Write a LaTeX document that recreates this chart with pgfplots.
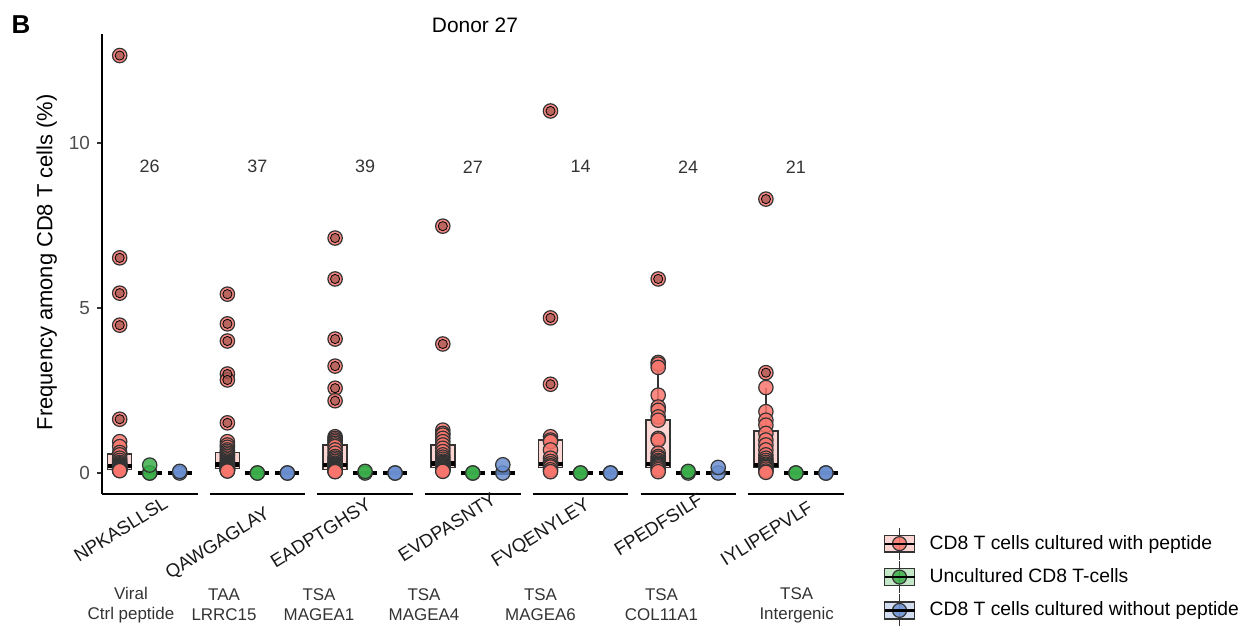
\documentclass[border=0pt]{standalone}
\usepackage{pgfplots}
\pgfplotsset{compat=1.18}
\usepackage{fontspec}
\setmainfont{Liberation Sans}
\definecolor{cred}{HTML}{F8766D}
\definecolor{cgreen}{HTML}{3BAE4A}
\definecolor{cblue}{HTML}{6A8FD0}
\definecolor{cdark}{HTML}{333333}
\definecolor{cout}{HTML}{A65A53}
\definecolor{cgray}{HTML}{4D4D4D}

% red points inside whiskers (x = facet position of the "with peptide" series)
\pgfplotstableread{
x y
119.7 0.95
119.7 0.80
119.7 0.62
119.7 0.55
119.7 0.45
119.7 0.38
119.7 0.32
119.7 0.28
119.7 0.25
119.7 0.22
119.7 0.21
119.7 0.20
119.7 0.18
119.7 0.16
119.7 0.14
119.7 0.12
119.7 0.11
119.7 0.10
119.7 0.09
119.7 0.08
119.7 0.07
227.4 0.95
227.4 0.85
227.4 0.78
227.4 0.70
227.4 0.65
227.4 0.60
227.4 0.55
227.4 0.50
227.4 0.45
227.4 0.40
227.4 0.36
227.4 0.32
227.4 0.30
227.4 0.28
227.4 0.26
227.4 0.24
227.4 0.22
227.4 0.20
227.4 0.19
227.4 0.18
227.4 0.16
227.4 0.15
227.4 0.14
227.4 0.13
227.4 0.12
227.4 0.11
227.4 0.10
227.4 0.09
227.4 0.08
227.4 0.07
227.4 0.06
335.1 1.10
335.1 1.05
335.1 1.00
335.1 0.95
335.1 0.90
335.1 0.85
335.1 0.80
335.1 0.70
335.1 0.60
335.1 0.50
335.1 0.45
335.1 0.40
335.1 0.35
335.1 0.30
335.1 0.27
335.1 0.25
335.1 0.24
335.1 0.22
335.1 0.20
335.1 0.18
335.1 0.17
335.1 0.15
335.1 0.14
335.1 0.13
335.1 0.12
335.1 0.11
335.1 0.10
335.1 0.09
335.1 0.08
335.1 0.07
335.1 0.06
335.1 0.05
335.1 0.04
442.8 1.30
442.8 1.20
442.8 1.15
442.8 1.05
442.8 0.95
442.8 0.85
442.8 0.75
442.8 0.65
442.8 0.55
442.8 0.48
442.8 0.42
442.8 0.36
442.8 0.32
442.8 0.29
442.8 0.27
442.8 0.25
442.8 0.22
442.8 0.20
442.8 0.18
442.8 0.17
442.8 0.15
442.8 0.12
442.8 0.10
442.8 0.07
442.8 0.05
550.5 1.10
550.5 1.00
550.5 0.95
550.5 0.70
550.5 0.45
550.5 0.35
550.5 0.28
550.5 0.22
550.5 0.18
550.5 0.10
550.5 0.04
658.2 3.35
658.2 3.30
658.2 3.20
658.2 2.36
658.2 2.00
658.2 1.90
658.2 1.70
658.2 1.60
658.2 1.05
658.2 1.00
658.2 0.60
658.2 0.50
658.2 0.45
658.2 0.38
658.2 0.34
658.2 0.30
658.2 0.27
658.2 0.25
658.2 0.22
658.2 0.19
658.2 0.15
658.2 0.10
658.2 0.04
765.9 2.59
765.9 1.86
765.9 1.60
765.9 1.45
765.9 1.20
765.9 1.00
765.9 0.85
765.9 0.70
765.9 0.55
765.9 0.45
765.9 0.38
765.9 0.32
765.9 0.27
765.9 0.24
765.9 0.20
765.9 0.17
765.9 0.12
765.9 0.06
765.9 0.02
}\redin

% red outliers
\pgfplotstableread{
x y
119.7 12.65
119.7 6.52
119.7 5.45
119.7 4.48
119.7 1.63
227.4 5.42
227.4 4.52
227.4 4.00
227.4 3.00
227.4 2.82
227.4 1.52
335.1 7.12
335.1 5.88
335.1 4.06
335.1 3.24
335.1 2.57
335.1 2.19
442.8 7.48
442.8 3.91
550.5 10.97
550.5 4.70
550.5 2.69
658.2 5.88
765.9 8.30
765.9 3.04
}\redout

% uncultured
\pgfplotstableread{
x y
149.7 0
149.7 0
149.7 0.24
257.4 0
257.4 0
365.1 0
365.1 0.05
472.8 0
472.8 0
580.5 0
580.5 0
688.2 0
688.2 0.05
795.9 0
795.9 0
}\green

% cultured without peptide
\pgfplotstableread{
x y
179.7 0
179.7 0.05
287.4 0
287.4 0
395.1 0
395.1 0
502.8 0
502.8 0.25
610.5 0
610.5 0
718.2 0
718.2 0.17
825.9 0
825.9 0
}\blue

\pgfplotsset{
  pts/.style={only marks, mark=*, mark size=3.6bp,
    mark options={draw=cdark, line width=0.6bp, fill=#1, fill opacity=0.85}, forget plot},
  outl/.style={only marks, mark=*, mark size=2.3bp,
    mark options={draw=none, fill=cout, fill opacity=0.75}, forget plot},
  legkey/.style={legend image code/.code={
     \draw[cdark, line width=0.7bp] (7.5bp,-8bp) -- (7.5bp,8bp);
     \draw[draw=cdark, line width=0.7bp, fill=#1, fill opacity=0.3] (0bp,-4.2bp) rectangle (15bp,4.2bp);
     \draw[draw=cdark, line width=0.6bp, fill=#1, fill opacity=0.85] (7.5bp,0bp) circle (3.5bp);
     \draw[black, line width=1.1bp] (0bp,0bp) -- (15bp,0bp);
  }},
}

% box: colour, left, centre, right, lower whisker, Q1, median, Q3, upper whisker
\newcommand{\bx}[9]{%
  \addplot[forget plot, mark=none, draw=cdark, line width=0.8bp] coordinates {(#3,#5) (#3,#6)};
  \addplot[forget plot, mark=none, draw=cdark, line width=0.8bp] coordinates {(#3,#8) (#3,#9)};
  \addplot[forget plot, mark=none, draw=cdark, line width=0.8bp, fill=#1, fill opacity=0.3]
     coordinates {(#2,#6) (#4,#6) (#4,#8) (#2,#8)} -- cycle;
  \addplot[forget plot, mark=none, draw=black, line width=2.2bp] coordinates {(#2,#7) (#4,#7)};
}
% degenerate box (all zero): left, right
\newcommand{\bz}[2]{%
  \addplot[forget plot, mark=none, draw=black, line width=2.2bp] coordinates {(#1,0) (#2,0)};
}
\newcommand{\seg}[1]{\draw[black, line width=1bp] (axis cs:#1,-0.64) -- (axis cs:#1+95.5,-0.64);}
\newcommand{\cnt}[2]{\node[font=\fontsize{9}{11}\selectfont, text=cdark] at (axis cs:#1,9.28) {#2};}
\newcommand{\cls}[3]{\node[align=center, font=\fontsize{8.5}{10}\selectfont, text=cdark] at (axis cs:#1,-4.0) {#2\\#3};}
\newcommand{\pep}[3]{\node[rotate=32, anchor=north east, inner sep=0pt,
    font=\fontsize{9.3}{11}\selectfont, text=black!90] at (axis cs:#1,#2) {#3};}

\begin{document}
\begin{tikzpicture}
\begin{axis}[
  x=0.5bp, y=16.5bp,
  xmin=102, xmax=845, ymin=-0.64, ymax=13.3,
  axis x line*=bottom, axis y line*=left,
  x axis line style={draw=none},
  y axis line style={draw=black, line width=1bp},
  xtick=\empty,
  ytick={0,5,10},
  tick align=outside,
  major tick length=2.5bp,
  ytick style={draw=cdark, line width=0.6bp},
  yticklabel style={font=\fontsize{9.5}{11}\selectfont, text=cgray},
  /pgf/number format/assume math mode=true,
  ylabel={Frequency among CD8 T cells (\%)},
  ylabel style={at={(axis description cs:-0.0744,0.504)}, anchor=center,
    font=\fontsize{11}{13}\selectfont},
  title={Donor 27},
  every axis title/.style={at={(axis description cs:0.502,1.0196)}, anchor=center,
    font=\fontsize{10.5}{12}\selectfont},
  clip=false,
  legend style={at={(axis cs:883,-3.152)}, anchor=west, draw=none, fill=none,
    inner sep=0pt, row sep=0pt, font=\fontsize{9.7}{11}\selectfont,
    /tikz/every odd column/.append style={column sep=7bp},
    nodes={inner sep=0pt, anchor=west}},
  legend cell align=left,
]
% points
\addplot[pts=cred] table[x=x,y=y] {\redin};
\addplot[pts=cred] table[x=x,y=y] {\redout};
\addplot[outl] table[x=x,y=y] {\redout};
\addplot[pts=cgreen] table[x=x,y=y] {\green};
\addplot[pts=cblue] table[x=x,y=y] {\blue};

% boxplots (with peptide)
\bx{cred}{107.7}{119.7}{131.7}{0.07}{0.11}{0.21}{0.58}{0.95}
\bx{cred}{215.4}{227.4}{239.4}{0.06}{0.14}{0.26}{0.62}{0.95}
\bx{cred}{323.1}{335.1}{347.1}{0.04}{0.11}{0.24}{0.85}{1.10}
\bx{cred}{430.8}{442.8}{454.8}{0.05}{0.17}{0.29}{0.85}{1.30}
\bx{cred}{538.5}{550.5}{562.5}{0.04}{0.17}{0.27}{1.00}{1.10}
\bx{cred}{646.2}{658.2}{670.2}{0.04}{0.17}{0.27}{1.60}{3.35}
\bx{cred}{753.9}{765.9}{777.9}{0.02}{0.17}{0.24}{1.28}{2.59}
% uncultured / without peptide (all at zero)
\bz{137.7}{161.7}\bz{245.4}{269.4}\bz{353.1}{377.1}\bz{460.8}{484.8}
\bz{568.5}{592.5}\bz{676.2}{700.2}\bz{783.9}{807.9}
\bz{167.7}{191.7}\bz{275.4}{299.4}\bz{383.1}{407.1}\bz{490.8}{514.8}
\bz{598.5}{622.5}\bz{706.2}{730.2}\bz{813.9}{837.9}

% legend
\addlegendimage{legkey=cred}
\addlegendentry{CD8 T cells cultured with peptide}
\addlegendimage{legkey=cgreen}
\addlegendentry{Uncultured CD8 T-cells}
\addlegendimage{legkey=cblue}
\addlegendentry{CD8 T cells cultured without peptide}

% facet x-axis segments
\seg{102}\seg{209.7}\seg{317.4}\seg{425.1}\seg{532.8}\seg{640.5}\seg{748.2}

% peptide labels
\pep{162.3}{-0.67}{NPKASLLSL}
\pep{264}{-0.97}{QAWGAGLAY}
\pep{365.7}{-0.72}{EADPTGHSY}
\pep{490.7}{-0.57}{EVDPASNTY}
\pep{584}{-0.72}{FVQENYLEY}
\pep{697.3}{-0.57}{FPEDFSILF}
\pep{807.3}{-0.82}{IYLIPEPVLF}

% counts
\cnt{149.7}{26}\cnt{257.4}{37}\cnt{365.1}{39}\cnt{472.8}{27}\cnt{580.5}{14}\cnt{688.2}{24}\cnt{795.9}{21}

% antigen classes
\cls{131}{Viral}{Ctrl peptide}
\cls{224}{TAA}{LRRC15}
\cls{319}{TSA}{MAGEA1}
\cls{424}{TSA}{MAGEA4}
\cls{540.5}{TSA}{MAGEA6}
\cls{661.5}{TSA}{COL11A1}
\cls{796.7}{TSA}{Intergenic}

\node[font=\bfseries\fontsize{13}{15}\selectfont] at (axis cs:21,13.576) {B};

\coordinate (bbA) at (axis cs:0,14.3333);
\coordinate (bbB) at (axis cs:1238,-4.6061);
\end{axis}
\pgfresetboundingbox
\path[use as bounding box] (bbA) rectangle (bbB);
\end{tikzpicture}
\end{document}
